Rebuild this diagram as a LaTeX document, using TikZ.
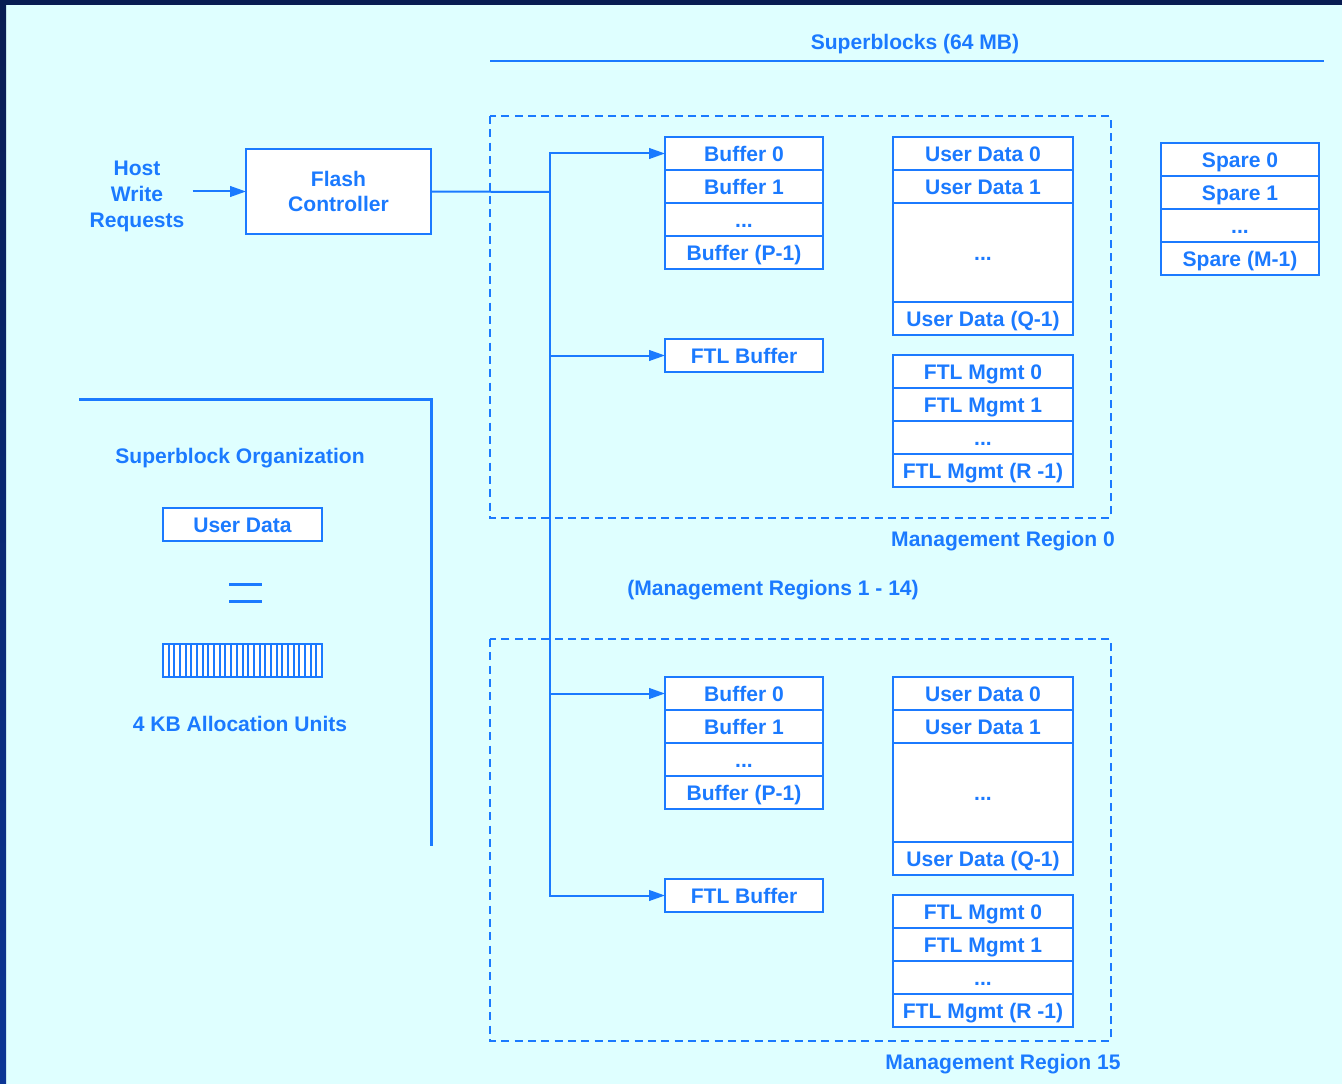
\documentclass[tikz,border=0pt]{standalone}
\usepackage{fontspec}
\setmainfont{Liberation Sans}
\usetikzlibrary{arrows.meta}

\definecolor{fg}{RGB}{27,122,255}
\definecolor{paper}{RGB}{223,255,255}
\definecolor{navy}{RGB}{8,28,82}
\definecolor{edgeblue}{RGB}{11,53,149}

\tikzset{
  lbl/.style={text=fg, font=\fontsize{15.8pt}{19.5pt}\selectfont\bfseries, inner sep=0pt},
  boxed/.style={lbl, draw=fg, fill=white, line width=1.5pt, outer sep=0pt},
  cell/.style={boxed, minimum height=24.75pt, text height=11.3pt, text depth=0pt},
  narrow/.style={minimum width=118.5pt},
  wide/.style={minimum width=135pt},
  wire/.style={draw=fg, line width=1.5pt},
  arr/.style={wire, -{Triangle[length=12pt,width=8pt]}},
  region/.style={draw=fg, line width=1.5pt, dash pattern=on 6pt off 4pt},
  rule/.style={draw=fg, line width=2.25pt},
}

% One management region: #1 name prefix, #2 vertical offset of the cells,
% #3 vertical offset of the dashed frame (both in px units)
\newcommand\mgmtregion[3]{%
  \draw[region] (490,116+#3) rectangle (1111,518+#3);
  \node[cell,narrow,anchor=north west] (#1b0) at (665,137+#2) {Buffer 0};
  \node[cell,narrow,anchor=north] (#1b1) at (#1b0.south) {Buffer 1};
  \node[cell,narrow,anchor=north] (#1b2) at (#1b1.south) {...};
  \node[cell,narrow,anchor=north] (#1b3) at (#1b2.south) {Buffer (P-1)};
  \node[cell,narrow,anchor=north west] (#1ftl) at (665,339+#2) {FTL Buffer};
  \node[cell,wide,anchor=north west] (#1u0) at (893,137+#2) {User Data 0};
  \node[cell,wide,anchor=north] (#1u1) at (#1u0.south) {User Data 1};
  \node[cell,wide,anchor=north,minimum height=74.25pt] (#1u2) at (#1u1.south) {...};
  \node[cell,wide,anchor=north] (#1u3) at (#1u2.south) {User Data (Q-1)};
  \node[cell,wide,anchor=north west] (#1m0) at (893,355+#2) {FTL Mgmt 0};
  \node[cell,wide,anchor=north] (#1m1) at (#1m0.south) {FTL Mgmt 1};
  \node[cell,wide,anchor=north] (#1m2) at (#1m1.south) {...};
  \node[cell,wide,anchor=north] (#1m3) at (#1m2.south) {FTL Mgmt (R -1)};
}

\begin{document}
\begin{tikzpicture}[x=0.75pt,y=-0.75pt]
  % page background and frame edges
  \fill[paper] (0,0) rectangle (1342,1084);
  \fill[navy] (0,0) rectangle (1342,5);
  \shade[top color=navy, bottom color=edgeblue] (0,0) rectangle (6,1084);
  \useasboundingbox (0,0) rectangle (1342,1084);

  % superblock heading
  \node[lbl] (sb) at (915,44) {Superblocks (64 MB)};
  \draw[draw=fg, line width=1.8pt] (490,61) -- (1324,61);

  % host side
  \node[lbl, align=center] (host) at (137,196) {Host\\Write\\Requests};
  \node[boxed, align=center, minimum width=138.75pt, minimum height=63.75pt,
        anchor=north west, font=\fontsize{15.8pt}{18.75pt}\selectfont\bfseries] (fc) at (246,149) {Flash\\Controller};
  \draw[arr] ([xshift=6pt]host.east |- fc.west) -- (fc.west);

  % distribution spine
  \coordinate (sp) at (550,192);
  \draw[wire] (fc.east) -- (sp);

  % management regions
  \mgmtregion{r0}{0}{0}
  \mgmtregion{r15}{540}{523}

  \draw[arr] (sp) |- (r0b0.west);
  \draw[arr] (sp) |- (r0ftl.west);
  \draw[arr] (sp) |- (r15b0.west);
  \draw[arr] (sp) |- (r15ftl.west);

  \node[lbl] (reg0) at (1003,541) {Management Region 0};
  \node[lbl] (regmid) at (773,590) {(Management Regions 1 - 14)};
  \node[lbl] (reg15) at (1003,1064) {Management Region 15};

  % spare blocks
  \node[cell,narrow,anchor=north west] (s0) at (1161,143) {Spare 0};
  \node[cell,narrow,anchor=north] (s1) at (s0.south) {Spare 1};
  \node[cell,narrow,anchor=north] (s2) at (s1.south) {...};
  \node[cell,narrow,anchor=north] (s3) at (s2.south) {Spare (M-1)};

  % superblock organization legend
  \draw[rule] (79,399) -- (431,399) -- (431,846);
  \node[lbl] (org) at (240,458) {Superblock Organization};
  \node[cell, minimum width=119.25pt, anchor=north west] (ud) at (163,508) {User Data};
  \draw[rule] (229,584) -- (262,584);
  \draw[rule] (229,601) -- (262,601);
  \node[boxed, minimum width=119.25pt, minimum height=24.75pt, anchor=north west] (au) at (163,644) {};
  \foreach \i in {1,...,27}
    \draw[draw=fg, line width=1.5pt] (163+\i*159/28,644) -- (163+\i*159/28,677);
  \node[lbl] (alloc) at (240,724) {4 KB Allocation Units};
\end{tikzpicture}
\end{document}
